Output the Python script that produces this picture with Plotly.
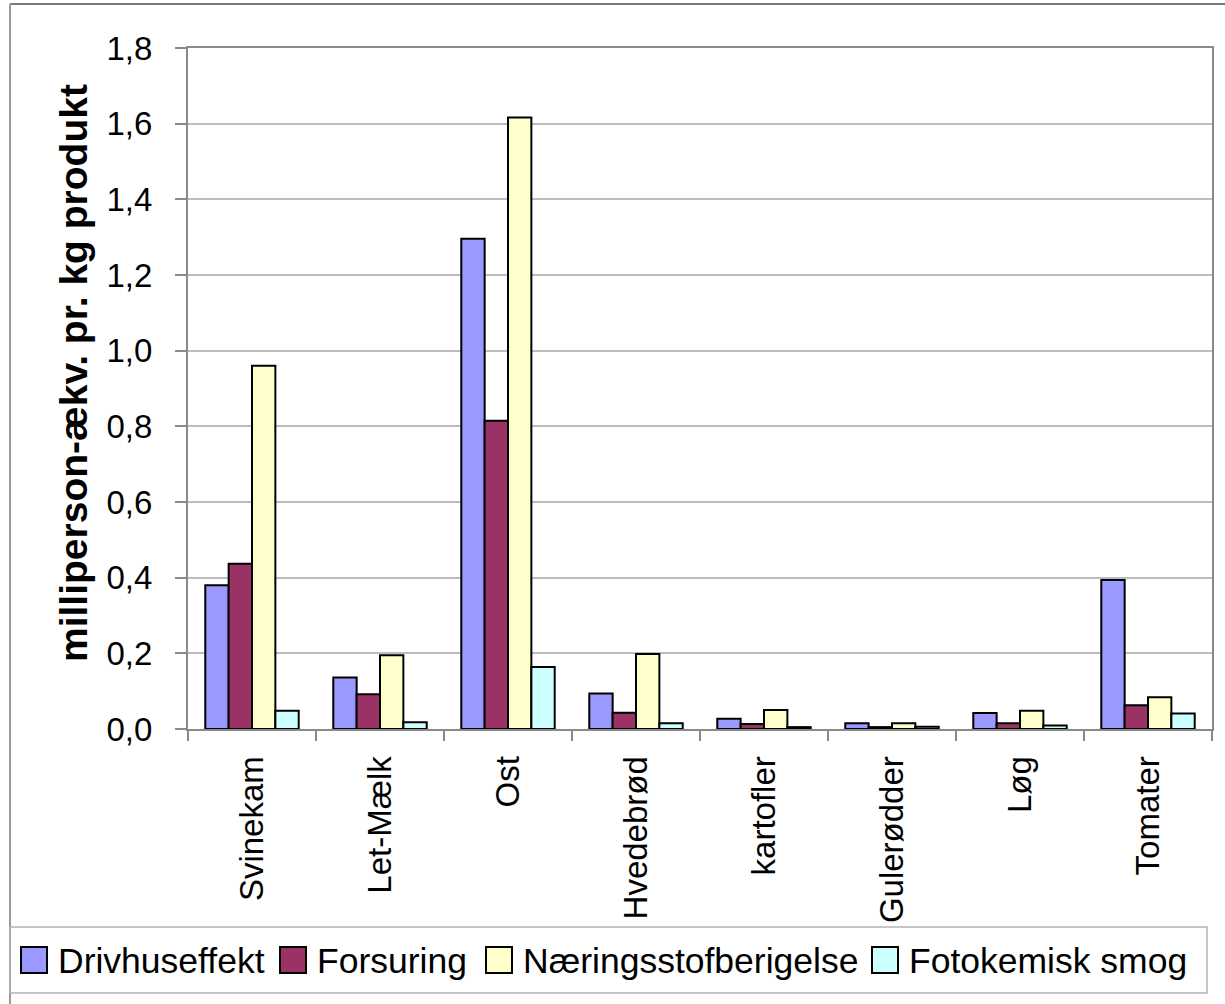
import plotly.graph_objects as go

# Products (x categories)
products = ["Svinekam", "Let-Mælk", "Ost", "Hvedebrød", "kartofler",
            "Gulerødder", "Løg", "Tomater"]

# Impact categories, milliperson-equivalents per kg product
drivhuseffekt = [0.38, 0.136, 1.296, 0.094, 0.027, 0.015, 0.042, 0.394]
forsuring = [0.437, 0.092, 0.815, 0.043, 0.013, 0.005, 0.015, 0.063]
naeringsstof = [0.96, 0.195, 1.616, 0.198, 0.05, 0.015, 0.048, 0.084]
fotokemisk = [0.048, 0.018, 0.164, 0.015, 0.005, 0.006, 0.009, 0.041]

series_names = ["Drivhuseffekt", "Forsuring", "Næringsstofberigelse", "Fotokemisk smog"]
series_values = [drivhuseffekt, forsuring, naeringsstof, fotokemisk]
series_colors = ["#9999FF", "#993366", "#FFFFCC", "#CCFFFF"]

y_ticks = [0.0, 0.2, 0.4, 0.6, 0.8, 1.0, 1.2, 1.4, 1.6, 1.8]
y_title = "milliperson-ækv. pr. kg produkt"

W, H = 1225, 1004
ML, MR, MT, MB = 188, 13, 48, 275
PW, PH = W - ML - MR, H - MT - MB


def px(x):
    """pixel column -> paper x"""
    return (x - ML) / PW


def py(y):
    """pixel row -> paper y"""
    return (H - MB - y) / PH


FONT = "Liberation Sans, Arial, sans-serif"

fig = go.Figure()
for name, vals, col in zip(series_names, series_values, series_colors):
    fig.add_trace(go.Bar(
        x=products, y=vals, name=name, showlegend=False,
        marker=dict(color=col, line=dict(color="#000000", width=2)),
    ))

shapes = []
annotations = []

# outer chart frame (top and left edges)
shapes.append(dict(type="line", xref="paper", yref="paper",
                   x0=px(10), x1=px(W + 5), y0=py(4), y1=py(4),
                   line=dict(color="#7a7a7a", width=2)))
shapes.append(dict(type="line", xref="paper", yref="paper",
                   x0=px(10), x1=px(10), y0=py(4), y1=py(H + 5),
                   line=dict(color="#9a9a9a", width=2)))

# legend box
shapes.append(dict(type="rect", xref="paper", yref="paper",
                   x0=px(10), x1=px(1207), y0=py(927), y1=py(993),
                   line=dict(color="#b4b4b4", width=1.5), fillcolor="rgba(0,0,0,0)"))

# legend entries: swatch + label
legend_swatch_x = [21, 280, 486, 872]
for name, col, sx in zip(series_names, series_colors, legend_swatch_x):
    shapes.append(dict(type="rect", xref="paper", yref="paper",
                       x0=px(sx), x1=px(sx + 26), y0=py(973), y1=py(947),
                       line=dict(color="#000000", width=2), fillcolor=col))
    annotations.append(dict(xref="paper", yref="paper", x=px(sx + 35), y=py(961),
                            xanchor="left", yanchor="middle", showarrow=False,
                            text=name, font=dict(family=FONT, size=35.5, color="#000000")))

# y-axis title
annotations.append(dict(xref="paper", yref="paper", x=px(73), y=py(373),
                        xanchor="center", yanchor="middle", showarrow=False,
                        textangle=-90, text=y_title,
                        font=dict(family=FONT, size=39, color="#000000", weight="bold")))

fig.update_layout(
    width=W, height=H,
    margin=dict(l=ML, r=MR, t=MT, b=MB, pad=0),
    paper_bgcolor="#FFFFFF", plot_bgcolor="#FFFFFF",
    barmode="group", bargap=0.27, bargroupgap=0,
    separators=",.",
    font=dict(family=FONT, size=33, color="#000000"),
    shapes=shapes, annotations=annotations,
    showlegend=False,
)

fig.update_xaxes(
    type="category", tickangle=-90,
    tickson="boundaries", ticks="outside", ticklen=10, tickcolor="#8a8a8a", tickwidth=2,
    showline=True, linecolor="#8a8a8a", linewidth=2, mirror=True,
    showgrid=False, ticklabelstandoff=12,
    tickfont=dict(family=FONT, size=33, color="#000000"),
)
fig.update_yaxes(
    range=[0, 1.8], tickvals=y_ticks, tickformat=".1f",
    ticks="outside", ticklen=11, tickcolor="#8a8a8a", tickwidth=2,
    showline=True, linecolor="#8a8a8a", linewidth=2, mirror=True,
    showgrid=True, gridcolor="#bdbdbd", gridwidth=2,
    zeroline=False, ticklabelstandoff=16,
    tickfont=dict(family=FONT, size=33, color="#000000"),
)

fig.write_html("out.html")
